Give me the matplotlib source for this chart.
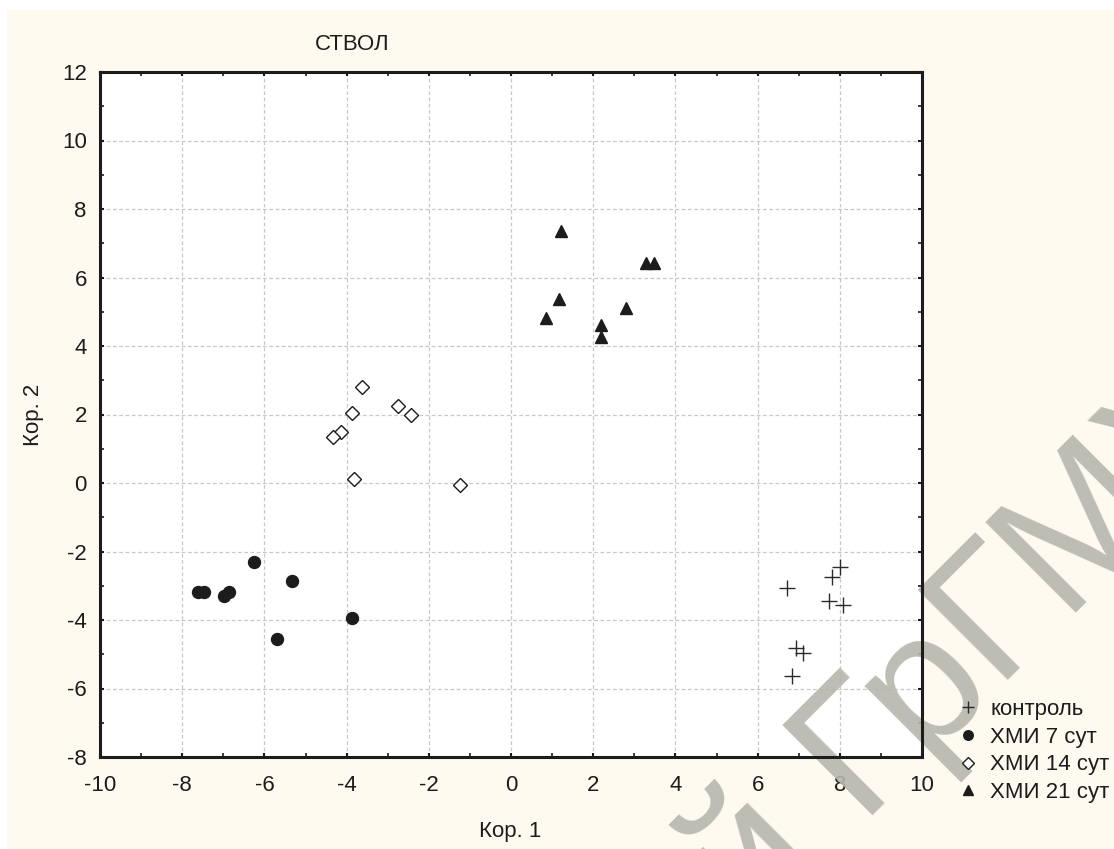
import matplotlib
matplotlib.use("Agg")
import matplotlib.pyplot as plt
from matplotlib.patches import Rectangle

plt.rcParams['font.family'] = ['Liberation Sans', 'DejaVu Sans']
plt.rcParams['axes.unicode_minus'] = False

# контроль
ctrl_x = [6.72, 8.00, 7.81, 7.74, 8.08, 6.93, 7.10, 6.84]
ctrl_y = [-3.07, -2.45, -2.74, -3.45, -3.56, -4.82, -4.96, -5.64]
# ХМИ 7 сут
d7_x = [-6.25, -5.33, -7.62, -7.47, -6.98, -6.86, -3.87, -5.69]
d7_y = [-2.31, -2.86, -3.18, -3.18, -3.30, -3.18, -3.94, -4.55]
# ХМИ 14 сут
d14_x = [-3.63, -3.87, -2.75, -2.43, -4.14, -4.33, -3.82, -1.24]
d14_y = [2.80, 2.04, 2.25, 1.99, 1.49, 1.33, 0.12, -0.05]
# ХМИ 21 сут
d21_x = [1.22, 3.28, 3.48, 1.17, 0.85, 2.80, 2.19, 2.19]
d21_y = [7.36, 6.42, 6.42, 5.37, 4.82, 5.11, 4.61, 4.26]

labels = ['контроль', 'ХМИ 7 сут', 'ХМИ 14 сут', 'ХМИ 21 сут']

W, H = 1114, 849
FS = 16
fig = plt.figure(figsize=(W / 100, H / 100), dpi=100, facecolor='white')

# cream background panel
fig.patches.append(Rectangle((7 / W, 0), 1, 1 - 10 / H, transform=fig.transFigure,
                             facecolor='#fffaf0', edgecolor='none', zorder=-10))

ax = fig.add_axes([100 / W, 1 - 757 / H, 822 / W, 685 / H])
ax.set_facecolor('white')

ax.plot(ctrl_x, ctrl_y, '+', color='#2a2a2a', ms=11, mew=1.0, label=labels[0])
ax.plot(d7_x, d7_y, 'o', color='#1c1c1c', ms=8.6, mec='#1c1c1c', label=labels[1])
ax.plot(d14_x, d14_y, 'D', color='white', ms=7.5, mec='#1c1c1c', mew=1.0, label=labels[2])
ax.plot(d21_x, d21_y, '^', color='#1c1c1c', ms=8.6, mec='#1c1c1c', label=labels[3])

ax.set_xlim(-10, 10)
ax.set_ylim(-8, 12)
ax.set_xticks(range(-10, 11, 2))
ax.set_yticks(range(-8, 13, 2))
ax.set_xticks(range(-9, 10, 2), minor=True)
ax.set_yticks(range(-7, 12, 2), minor=True)
ax.grid(True, which='major', color='#c8c8c8', linestyle=(0, (3, 2)), linewidth=0.9)
ax.set_axisbelow(True)

ax.tick_params(which='both', direction='in', top=True, right=True, color='#1c1c1c')
ax.tick_params(which='major', length=3, width=1.5, labelsize=FS, colors='#1c1c1c')
ax.tick_params(which='minor', length=3, width=1.2)
ax.tick_params(axis='x', which='major', pad=13)
ax.tick_params(axis='y', which='major', pad=9.5)
for s in ax.spines.values():
    s.set_linewidth(2.2)
    s.set_color('#1c1c1c')

fig.text(352 / W, 1 - 45 / H, 'СТВОЛ', ha='center', va='center', fontsize=FS, color='#1c1c1c')
fig.text(510 / W, 1 - 831 / H, 'Кор. 1', ha='center', va='center', fontsize=FS, color='#1c1c1c')
fig.text(33 / W, 1 - 415 / H, 'Кор. 2', ha='center', va='center', fontsize=FS,
         rotation=90, color='#1c1c1c')

leg = fig.legend(loc='upper left', bbox_to_anchor=(957 / W, 1 - 699 / H), frameon=False,
                 fontsize=FS, handlelength=1.0, handletextpad=0.5, borderpad=0,
                 borderaxespad=0, labelspacing=0.3, markerscale=0.8)
for t in leg.get_texts():
    t.set_color('#1c1c1c')

# watermark: under the markers and spines, over the grid
wm = dict(rotation=45, rotation_mode='anchor', va='baseline', fontsize=133,
          color='#b6b6ae', alpha=0.9, zorder=1.5, clip_on=False, transform=fig.transFigure)
ax.text(858 / W, 1 - 815 / H, 'ГрГМУ', ha='left', **wm)
ax.text(822 / W, 1 - 851 / H, 'Репозиторий', ha='right', **wm)

fig.savefig('out.png', dpi=100, facecolor=fig.get_facecolor())
